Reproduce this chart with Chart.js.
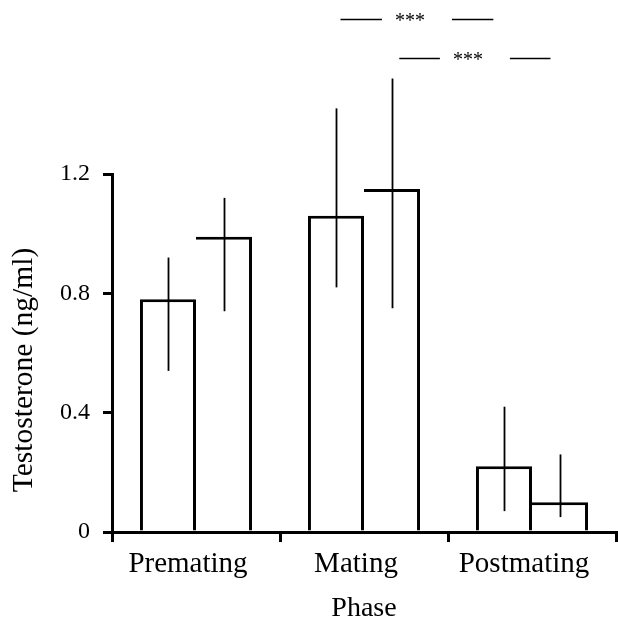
<!DOCTYPE html>
<html>
<head>
<meta charset="utf-8">
<script src="https://cdn.jsdelivr.net/npm/chart.js@4.4.1/dist/chart.umd.min.js"></script>
<style>
  html, body { margin: 0; padding: 0; background: #fff; }
  #wrap { width: 618px; height: 618px; }
</style>
</head>
<body>
<div id="wrap"><canvas id="chart" width="618" height="618"></canvas></div>
<script>
// values (ng/ml)
const phases = ['Premating', 'Mating', 'Postmating'];
const groupA = [0.78, 1.06, 0.22];
const groupB = [0.99, 1.15, 0.10];
const groupALow = [0.54, 0.82, 0.07];
const groupAHigh = [0.92, 1.42, 0.42];
const groupBLow = [0.74, 0.75, 0.05];
const groupBHigh = [1.12, 1.52, 0.26];
const yTicks = [0, 0.4, 0.8, 1.2];

const FONT = "'Liberation Serif', 'Times New Roman', serif";

// significance markers: [from, to] in category units, level in ng/ml
const sigMarks = [
    { from: 0.86, to: 1.77, level: 1.72, label: '***' },
    { from: 1.21, to: 2.11, level: 1.588, label: '***' }
];

const errorBars = {
    id: 'errorBars',
    afterDatasetsDraw(chart) {
        const ctx = chart.ctx;
        const y = chart.scales.y;
        const ranges = [[groupALow, groupAHigh], [groupBLow, groupBHigh]];
        ctx.save();
        ctx.strokeStyle = '#000';
        ctx.lineWidth = 1.8;
        ranges.forEach(([lo, hi], i) => {
            chart.getDatasetMeta(i).data.forEach((bar, j) => {
                const x = Math.round(bar.x) + 0.5;
                ctx.beginPath();
                ctx.moveTo(x, y.getPixelForValue(lo[j]));
                ctx.lineTo(x, y.getPixelForValue(hi[j]));
                ctx.stroke();
            });
        });
        ctx.restore();
    }
};

const extras = {
    id: 'extras',
    afterDraw(chart) {
        const ctx = chart.ctx;
        const xs = chart.scales.x, ys = chart.scales.y;
        ctx.save();
        ctx.fillStyle = '#000';
        ctx.strokeStyle = '#000';

        // significance lines with stars in a gap
        ctx.lineWidth = 1.5;
        ctx.font = '20px ' + FONT;
        ctx.textAlign = 'center';
        ctx.textBaseline = 'middle';
        sigMarks.forEach(m => {
            const x0 = xs.getPixelForValue(m.from);
            const x1 = xs.getPixelForValue(m.to);
            const yy = Math.round(ys.getPixelForValue(m.level)) + 0.5;
            const mid = (x0 + x1) / 2;
            ctx.beginPath();
            ctx.moveTo(x0, yy); ctx.lineTo(mid - 35, yy);
            ctx.moveTo(mid + 35, yy); ctx.lineTo(x1, yy);
            ctx.stroke();
            ctx.fillText(m.label, mid - 7, yy + 2);
        });

        // y axis title, placed like the original
        ctx.font = '29.5px ' + FONT;
        ctx.textBaseline = 'alphabetic';
        ctx.translate(32, 370);
        ctx.rotate(-Math.PI / 2);
        ctx.fillText('Testosterone (ng/ml)', 0, 0);
        ctx.restore();
    }
};

new Chart(document.getElementById('chart'), {
    type: 'bar',
    data: {
        labels: phases,
        datasets: [
            {
                data: groupA,
                backgroundColor: '#fff',
                borderColor: '#000',
                borderWidth: { top: 3, left: 3, right: 3, bottom: 0 },
                borderSkipped: false
            },
            {
                data: groupB,
                backgroundColor: '#fff',
                borderColor: '#000',
                borderWidth: { top: 3, left: 0, right: 3, bottom: 0 },
                borderSkipped: false
            }
        ]
    },
    options: {
        responsive: false,
        animation: false,
        categoryPercentage: 0.667,
        barPercentage: 1.0,
        layout: { padding: { top: 174, right: 2, left: 0, bottom: 0 } },
        plugins: {
            legend: { display: false },
            tooltip: { enabled: false }
        },
        scales: {
            x: {
                afterFit: (s) => { s.height = 86; },
                grid: { drawOnChartArea: false, tickLength: 10, lineWidth: 3, color: '#000' },
                border: { width: 3, color: '#000' },
                ticks: { color: '#000', font: { family: FONT, size: 29 }, padding: 5, labelOffset: -8 },
                title: {
                    display: true,
                    text: 'Phase',
                    color: '#000',
                    font: { family: FONT, size: 28 },
                    padding: { top: 0, bottom: -7 }
                }
            },
            y: {
                min: 0,
                max: 1.2,
                afterFit: (s) => { s.width = 112; },
                afterBuildTicks: (s) => { s.ticks = yTicks.map(v => ({ value: v })); },
                grid: { drawOnChartArea: false, tickLength: 9, lineWidth: 3, color: '#000' },
                border: { width: 3, color: '#000' },
                ticks: {
                    color: '#000',
                    font: { family: FONT, size: 24 },
                    padding: 13,
                    callback: (v) => String(v)
                }
            }
        }
    },
    plugins: [errorBars, extras]
});
</script>
</body>
</html>
